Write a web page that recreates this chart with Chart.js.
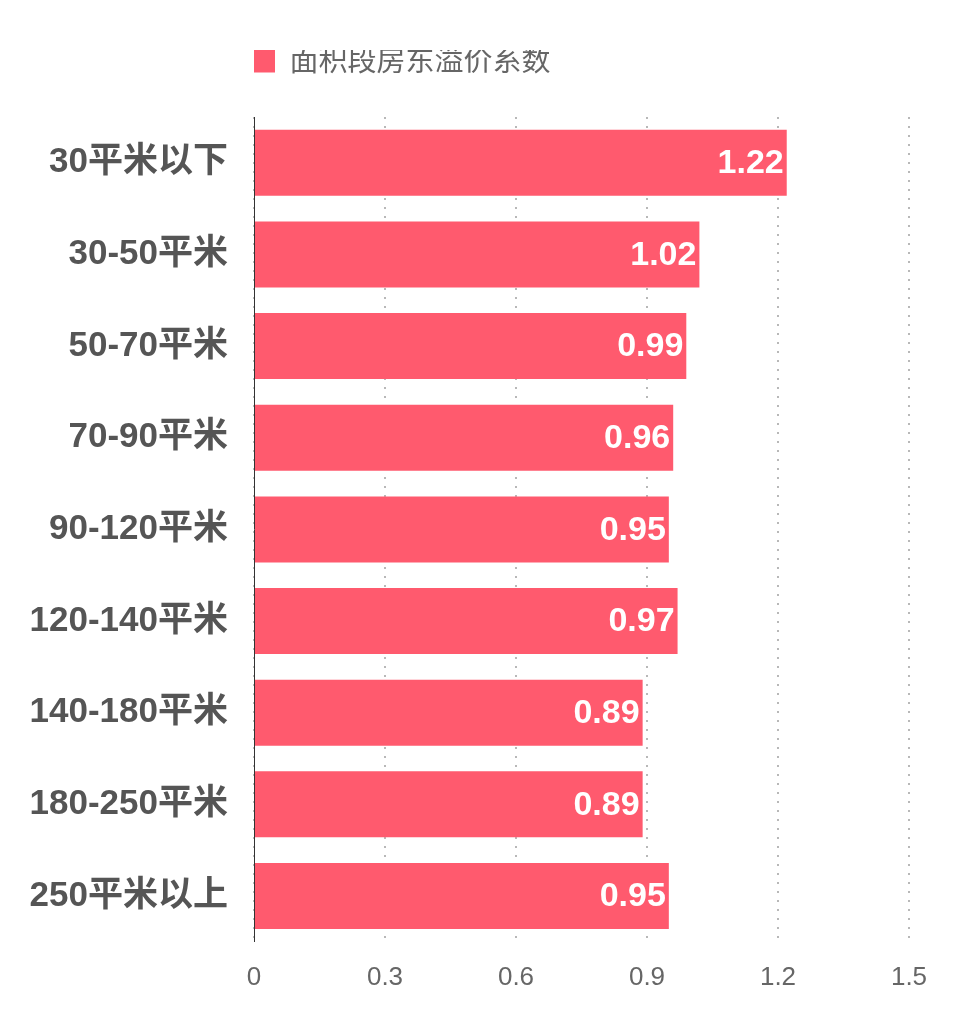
<!DOCTYPE html>
<html><head><meta charset="utf-8">
<script src="https://cdn.jsdelivr.net/npm/chart.js@4/dist/chart.umd.min.js"></script>
<style>html,body{margin:0;padding:0;background:#fff}#wrap{width:960px;height:1019px}</style>
</head><body><div id="wrap"><canvas id="c" width="960" height="1019"></canvas></div>
<script>
const categories = ['30平米以下','30-50平米','50-70平米','70-90平米','90-120平米','120-140平米','140-180平米','180-250平米','250平米以上'];
const values = [1.22, 1.02, 0.99, 0.96, 0.95, 0.97, 0.89, 0.89, 0.95];
const xTicks = [0, 0.3, 0.6, 0.9, 1.2, 1.5];
const seriesName = '面积段房东溢价系数';

const FONT = '"Liberation Sans", "Noto Sans CJK SC", sans-serif';
const CJK = '"Noto Sans CJK SC", sans-serif';
const BAR = '#FF5A6E';

const valueLabels = {
  id: 'valueLabels',
  afterDatasetsDraw(chart) {
    const ctx = chart.ctx;
    const meta = chart.getDatasetMeta(0);
    ctx.save();
    ctx.fillStyle = '#ffffff';
    ctx.font = 'bold 34px ' + FONT;
    ctx.textAlign = 'right';
    ctx.textBaseline = 'middle';
    meta.data.forEach((bar, i) => {
      ctx.fillText(values[i].toFixed(2), bar.x - 3, bar.y + 1);
    });
    ctx.restore();
  }
};

new Chart(document.getElementById('c'), {
  type: 'bar',
  data: {
    labels: categories,
    datasets: [{
      label: seriesName,
      data: values,
      backgroundColor: BAR,
      borderWidth: 0,
      barPercentage: 0.72,
      categoryPercentage: 1
    }]
  },
  options: {
    indexAxis: 'y',
    responsive: false,
    animation: false,
    devicePixelRatio: 1,
    layout: { padding: { top: 50, right: 51, bottom: 6, left: 0 } },
    plugins: {
      tooltip: { enabled: false },
      legend: {
        position: 'top',
        align: 'start',
        fullSize: false,
        labels: {
          boxWidth: 26, boxHeight: 26, padding: -5,
          color: '#666666',
          font: { family: CJK, size: 29 }
        }
      }
    },
    scales: {
      x: {
        type: 'linear',
        position: 'bottom',
        min: 0, max: 1.5,
        afterBuildTicks: s => { s.ticks = xTicks.map(v => ({ value: v })); },
        grid: { color: '#b8b8b8', lineWidth: 2, drawTicks: false },
        border: { display: false, dash: [2, 7] },
        ticks: { padding: 20, color: '#666666', font: { family: FONT, size: 26 } }
      },
      x2: {
        type: 'linear',
        position: 'top',
        display: true,
        grid: { display: false, drawTicks: false },
        border: { display: false },
        ticks: { display: false },
        title: { display: true, text: '', font: { size: 10 }, padding: { top: 0, bottom: 21 } }
      },
      y: {
        type: 'category',
        grid: { display: false, drawTicks: false },
        border: { display: true, color: '#333333', width: 1 },
        afterFit: s => { s.width = 254; },
        ticks: { padding: 26, color: '#555555', font: { family: FONT, size: 35, weight: 'bold' } }
      }
    }
  },
  plugins: [valueLabels]
});
</script>
</body></html>
